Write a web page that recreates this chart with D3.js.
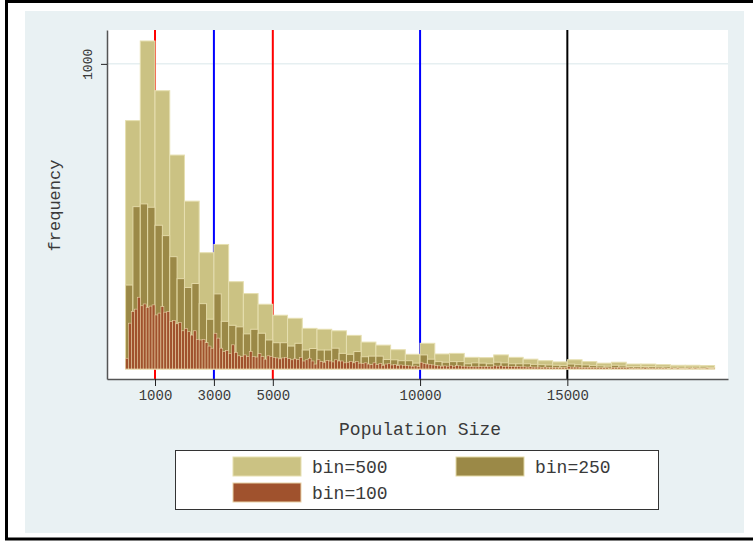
<!DOCTYPE html>
<html>
<head>
<meta charset="utf-8">
<script src="https://cdn.jsdelivr.net/npm/d3@7"></script>
<style>
  body { margin: 0; background: #ffffff; }
  text { font-family: "Courier New", "Liberation Mono", monospace; fill: #3a3a3a; }
</style>
</head>
<body>
<div id="draw_here"></div>

<script type="text/javascript">
    // Data
    bin500 = [814, 1075, 912, 701, 550, 381, 408, 286, 247, 212,
              176, 166, 133, 130, 125, 110, 88, 78, 63, 48,
              84, 49, 51, 38, 37, 46, 38, 32, 27, 23,
              30, 24, 19, 22, 16, 16, 14, 12, 12, 11]

    bin250 = [275, 532, 541, 530, 471, 437, 368, 296, 267, 280,
              214, 163, 246, 156, 143, 138, 115, 130, 117, 95,
              86, 86, 75, 84, 62, 67, 62, 62, 68, 51,
              48, 57, 40, 42, 42, 31, 30, 27, 27, 19,
              46, 32, 24, 22, 24, 24, 17, 20, 19, 17,
              22, 20, 17, 17, 17, 15, 14, 13, 12, 11,
              16, 14, 13, 11, 10, 9, 12, 10, 8, 8,
              8, 8, 7, 7, 6, 6, 6, 6, 6, 5]

    bin100 = [35, 150, 188, 196, 235, 207, 213, 202, 206, 210,
              177, 183, 204, 186, 188, 155, 159, 148, 152, 125,
              133, 122, 111, 125, 97, 95, 97, 86, 75, 68,
              117, 101, 68, 57, 60, 51, 79, 54, 43, 41,
              46, 41, 57, 41, 39, 50, 41, 32, 43, 41,
              38, 36, 33, 36, 38, 34, 30, 33, 31, 38,
              26, 30, 35, 26, 16, 30, 24, 22, 28, 26,
              23, 30, 26, 26, 20, 22, 25, 20, 24, 19,
              18, 20, 16, 14, 20, 15, 18, 12, 16, 17,
              13, 14, 11, 13, 12, 11, 10, 9, 10, 8,
              22, 18, 16, 15, 13, 11, 10, 9, 10, 9,
              12, 9, 11, 10, 9, 9, 7, 8, 7, 7,
              8, 7, 8, 7, 7, 10, 9, 10, 8, 9,
              8, 8, 7, 8, 7, 7, 6, 7, 6, 6,
              6, 5, 6, 5, 5, 5, 5, 4, 5, 4,
              7, 6, 6, 6, 5, 5, 5, 5, 5, 4,
              4, 4, 4, 4, 3, 5, 4, 5, 4, 4,
              4, 3, 3, 3, 3, 3, 4, 3, 3, 3,
              3, 3, 3, 3, 2, 3, 2, 3, 2, 2,
              2, 3, 2, 3, 2, 2, 2, 3, 2, 2]

    series = [
        {label: "bin=500", width: 500, values: bin500, fill: "#cbc283", stroke: "#e6dfb0", sw: 1},
        {label: "bin=250", width: 250, values: bin250, fill: "#9b8947", stroke: "#e3d9a6", sw: 1},
        {label: "bin=100", width: 100, values: bin100, fill: "#a0522d", stroke: "#e8d2a8", sw: 0.6}
    ]

    xTicks = [1000, 3000, 5000, 10000, 15000]
    yTicks = [1000]
    vlines = [{v: 1000, c: "#ff0000"}, {v: 3000, c: "#0000ff"}, {v: 5000, c: "#ff0000"},
              {v: 10000, c: "#0000ff"}, {v: 15000, c: "#000000"}]

    // Setup chart
    canvas = ({width: 753, height: 542})
    plot = ({left: 107, right: 728, top: 30, bottom: 379})

    x = d3.scaleLinear()
        .domain([-630, 20455])
        .range([plot.left, plot.right])

    y = d3.scaleLinear()
        .domain([-33, 1111])
        .range([plot.bottom, plot.top])

    var svg = d3.select("div#draw_here").append("svg")
        .attr("width", canvas.width)
        .attr("height", canvas.height)
        .attr("viewBox", [0, 0, canvas.width, canvas.height]);

    // outer frame and graph region
    svg.append("rect")
        .attr("x", 6.5).attr("y", 1.5)
        .attr("width", 780).attr("height", 537.5)
        .attr("fill", "#ffffff")
        .attr("stroke", "#000000")
        .attr("stroke-width", 3);

    svg.append("rect")
        .attr("x", 25).attr("y", 11)
        .attr("width", 719).attr("height", 522)
        .attr("fill", "#e9f1f3");

    svg.append("rect")
        .attr("x", plot.left).attr("y", plot.top)
        .attr("width", plot.right - plot.left).attr("height", plot.bottom - plot.top)
        .attr("fill", "#ffffff");

    // grid
    svg.append("g")
        .selectAll("line")
        .data(yTicks)
        .join("line")
        .attr("x1", plot.left).attr("x2", plot.right)
        .attr("y1", d => y(d)).attr("y2", d => y(d))
        .attr("stroke", "#e6eff1")
        .attr("stroke-width", 1.5);

    // reference lines
    svg.append("g")
        .selectAll("line")
        .data(vlines)
        .join("line")
        .attr("x1", d => x(d.v)).attr("x2", d => x(d.v))
        .attr("y1", plot.top).attr("y2", plot.bottom)
        .attr("stroke", d => d.c)
        .attr("stroke-width", 2);

    // histograms
    series.forEach(s => {
        svg.append("g")
            .selectAll("rect")
            .data(s.values)
            .join("rect")
            .attr("x", (d, i) => x(i * s.width))
            .attr("width", x(s.width) - x(0))
            .attr("y", d => y(d))
            .attr("height", d => y(0) - y(d))
            .attr("fill", s.fill)
            .attr("stroke", s.stroke)
            .attr("stroke-width", s.sw);
    })

    // axes
    xAxis = g => g
        .attr("transform", `translate(0,${plot.bottom})`)
        .call(d3.axisBottom(x).tickValues(xTicks).tickFormat(d3.format("d")).tickSizeInner(7).tickSizeOuter(0).tickPadding(4))
        .call(g => g.select(".domain").attr("stroke", "#555555").attr("stroke-width", 1.5))
        .call(g => g.selectAll(".tick line").attr("stroke", "#222222"))
        .call(g => g.selectAll(".tick text").attr("font-size", 14).attr("font-family", null).attr("fill", "#3a3a3a"))

    yAxis = g => g
        .attr("transform", `translate(${plot.left},0)`)
        .call(d3.axisLeft(y).tickValues(yTicks).tickFormat(d3.format("d")).tickSizeInner(6).tickSizeOuter(0))
        .call(g => g.select(".domain").attr("stroke", "#555555").attr("stroke-width", 1.5))
        .call(g => g.selectAll(".tick line").attr("stroke", "#222222"))
        .call(g => g.selectAll(".tick text")
            .attr("font-size", 13).attr("font-family", null).attr("fill", "#3a3a3a")
            .attr("x", null).attr("dy", null)
            .attr("text-anchor", "middle")
            .attr("transform", "translate(-15,0) rotate(-90)"))

    svg.append("g").call(xAxis);
    svg.append("g").call(yAxis);

    // axis titles
    svg.append("text")
        .attr("x", (x(0) + x(20000)) / 2)
        .attr("y", 435)
        .attr("text-anchor", "middle")
        .attr("font-size", 18)
        .text("Population Size");

    svg.append("text")
        .attr("transform", `translate(60,${(plot.top + plot.bottom) / 2 + 1}) rotate(-90)`)
        .attr("text-anchor", "middle")
        .attr("font-size", 17)
        .text("frequency");

    // legend
    legendPos = [{x: 233, y: 457}, {x: 456, y: 457}, {x: 233, y: 483}]

    svg.append("rect")
        .attr("x", 175.5).attr("y", 450.5)
        .attr("width", 483).attr("height", 59)
        .attr("fill", "#ffffff")
        .attr("stroke", "#333333")
        .attr("stroke-width", 1);

    var leg = svg.append("g")
        .selectAll("g")
        .data(series)
        .join("g")
        .attr("transform", (d, i) => `translate(${legendPos[i].x},${legendPos[i].y})`);

    leg.append("rect")
        .attr("width", 68).attr("height", 19)
        .attr("fill", d => d.fill)
        .attr("stroke", d => d.stroke)
        .attr("stroke-width", 1);

    leg.append("text")
        .attr("x", 79).attr("y", 16)
        .attr("font-size", 18)
        .text(d => d.label);
</script>
</body>
</html>
